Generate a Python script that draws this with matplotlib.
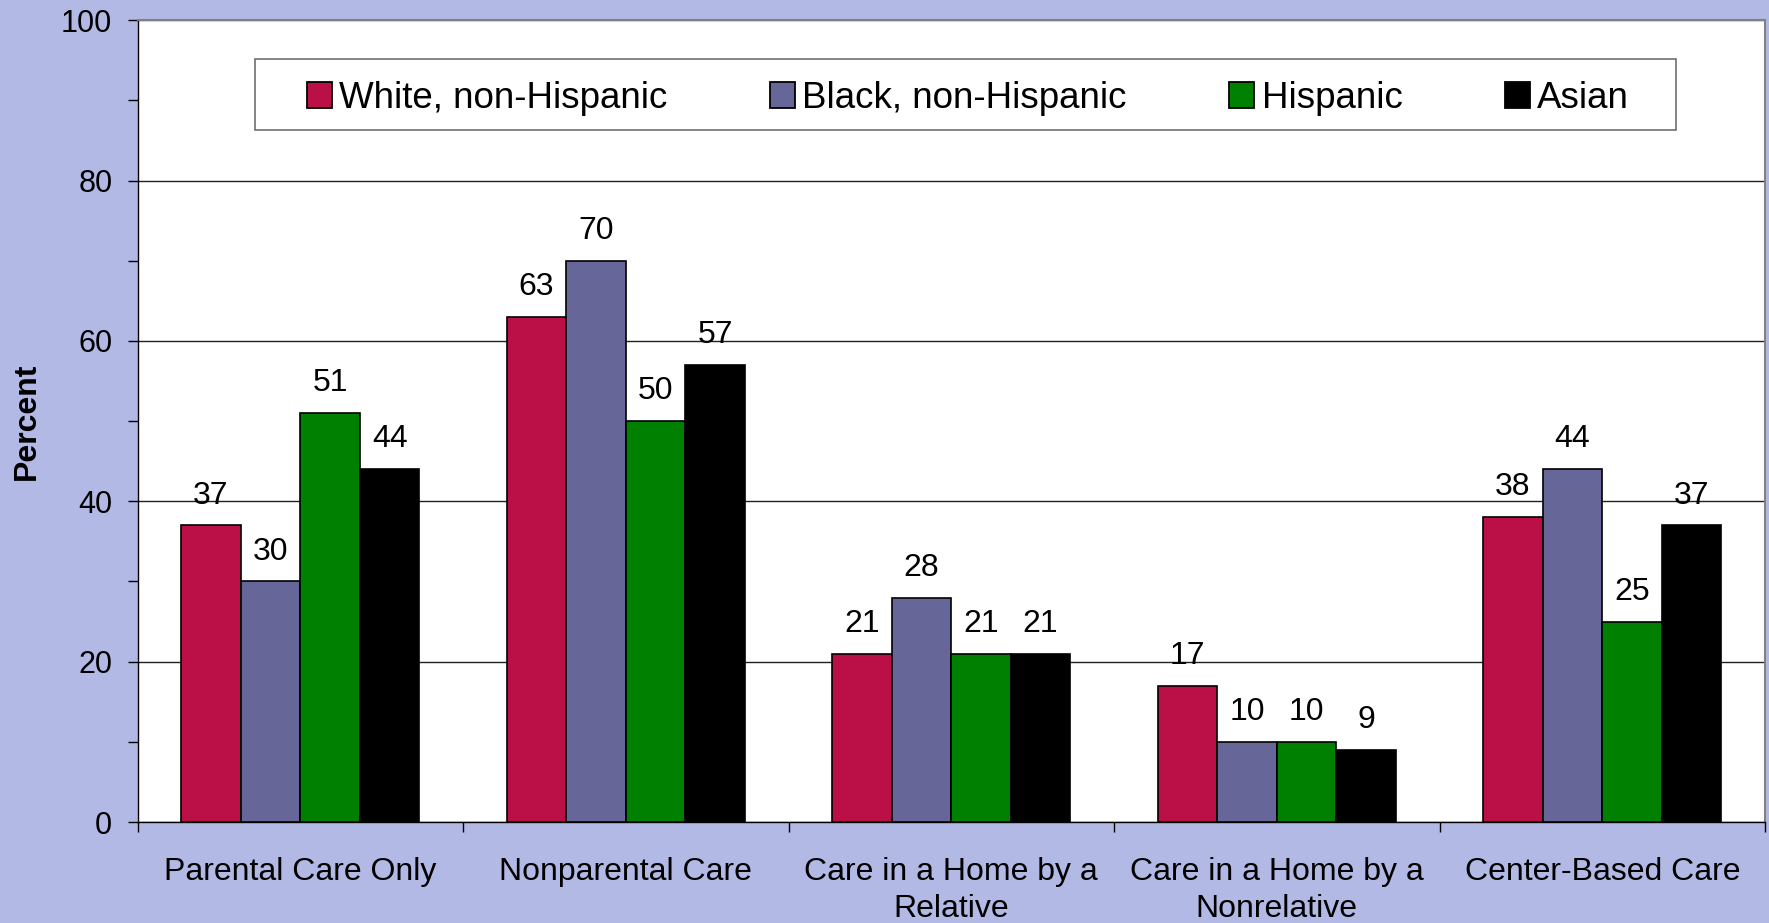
import matplotlib
matplotlib.use("Agg")
import matplotlib.pyplot as plt
import numpy as np
from matplotlib.patches import Rectangle, Patch
from matplotlib.ticker import MultipleLocator, FixedLocator

plt.rcParams['font.family'] = ['Liberation Sans', 'DejaVu Sans']

categories = ['Parental Care Only', 'Nonparental Care', 'Care in a Home by a\nRelative',
              'Care in a Home by a\nNonrelative', 'Center-Based Care']
series_names = ['White, non-Hispanic', 'Black, non-Hispanic', 'Hispanic', 'Asian']
white = [37, 63, 21, 17, 38]
black = [30, 70, 28, 10, 44]
hispanic = [51, 50, 21, 10, 25]
asian = [44, 57, 21, 9, 37]
series_values = [white, black, hispanic, asian]
colors = ['#BA0F47', '#666699', '#008000', '#000000']

bg = '#B3B9E5'
fig = plt.figure(figsize=(17.69, 9.23), dpi=100, facecolor=bg)
ax = fig.add_axes([137.6/1769, 1-822/923, (1765-137.6)/1769, (822-20.3)/923])
ax.set_facecolor('white')

x = np.arange(len(categories))
bw = 0.183
offsets = (np.arange(4) - 1.5) * bw
for vals, off, col in zip(series_values, offsets, colors):
    ax.bar(x + off, vals, width=bw, color=col, edgecolor='black', linewidth=1.2, zorder=3)
    for xi, v in zip(x + off, vals):
        ax.annotate(str(v), (xi, v), xytext=(0, 21.5), textcoords='offset points',
                    ha='center', va='center', fontsize=23, color='black')

ax.set_xlim(-0.5, len(categories) - 0.5)
ax.set_ylim(0, 100)

ax.yaxis.set_major_locator(MultipleLocator(20))
ax.yaxis.set_minor_locator(MultipleLocator(10))
ax.tick_params(axis='y', which='both', direction='out', length=7.2, width=1, labelsize=22, pad=11)
ax.grid(axis='y', which='major', color='#202020', linewidth=1, zorder=1)

ax.xaxis.set_major_locator(FixedLocator(np.arange(len(categories) + 1) - 0.5))
ax.xaxis.set_minor_locator(FixedLocator(x))
ax.set_xticklabels([])
ax.set_xticklabels(categories, minor=True)
ax.tick_params(axis='x', which='major', direction='out', length=7.2, width=1)
ax.tick_params(axis='x', which='minor', length=0, labelsize=23, pad=25)
for lab in ax.get_xticklabels(minor=True):
    lab.set_linespacing(1.3)

for s in ['left', 'bottom']:
    ax.spines[s].set_color('black')
    ax.spines[s].set_linewidth(1)
for s in ['top', 'right']:
    ax.spines[s].set_color('#808080')
    ax.spines[s].set_linewidth(1.5)

ax.set_ylabel('Percent', fontsize=23, fontweight='bold', va='center')
ax.yaxis.set_label_coords((27 - 137.6) / (1765 - 137.6), 0.5)

# legend box
fig.patches.append(Rectangle((255/1769, 1-130/923), 1421/1769, 71/923, transform=fig.transFigure,
                             facecolor='white', edgecolor='#707070', linewidth=1.2, zorder=4))
handles = [Patch(facecolor=c, edgecolor='black', linewidth=1.3) for c in colors]
fig.legend(handles, series_names, ncol=4, mode='expand', frameon=False,
           bbox_to_anchor=(307/1769, 1-133.5/923, (1629-307)/1769, 71/923), loc='center',
           fontsize=26.5, handlelength=0.68, handleheight=0.7, handletextpad=0.2,
           borderpad=0, borderaxespad=0)

fig.savefig('out.png', dpi=100, facecolor=bg)
